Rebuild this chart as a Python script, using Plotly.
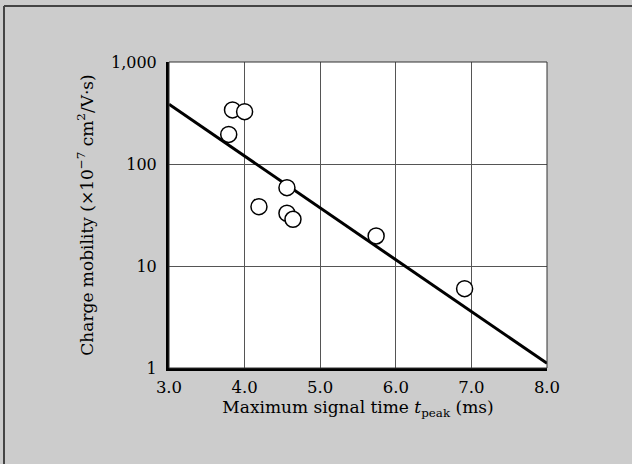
import plotly.graph_objects as go

# Data
signal_time = [3.84, 4.00, 3.79, 4.56, 4.19, 4.56, 4.64, 5.74, 6.91]
mobility = [339, 326, 195, 58.6, 38.2, 32.9, 28.7, 19.7, 6.0]
fit_time = [3.0, 8.0]
fit_mobility = [385, 1.11]

x_ticks = [3, 4, 5, 6, 7, 8]
x_tick_labels = ["3.0", "4.0", "5.0", "6.0", "7.0", "8.0"]
y_ticks = [1, 10, 100, 1000]
y_tick_labels = ["1", "10", "100", "1,000"]

FONT = "DejaVu Serif"

fig = go.Figure()
fig.add_trace(go.Scatter(
    x=fit_time, y=fit_mobility, mode="lines",
    line=dict(color="black", width=3), showlegend=False, hoverinfo="skip",
))
fig.add_trace(go.Scatter(
    x=signal_time, y=mobility, mode="markers",
    marker=dict(symbol="circle", size=16, color="white",
                line=dict(color="black", width=1.5)),
    showlegend=False, cliponaxis=False,
))

# plot border (thin)
fig.add_shape(type="rect", xref="paper", yref="paper", x0=0, x1=1, y0=0, y1=1,
              line=dict(color="#333333", width=1), layer="above")
# outer frame: only top and left edges are visible in the reference
fig.add_shape(type="line", xref="paper", yref="paper",
              x0=-0.4365, x1=1.3, y0=1.183, y1=1.183,
              line=dict(color="#444444", width=2), layer="below")
fig.add_shape(type="line", xref="paper", yref="paper",
              x0=-0.4365, x1=-0.4365, y0=-0.4, y1=1.183,
              line=dict(color="#444444", width=2), layer="below")

fig.update_layout(
    width=632, height=464,
    margin=dict(l=169, r=85, t=62, b=96),
    paper_bgcolor="#cccccc", plot_bgcolor="white",
    font=dict(family=FONT, size=16, color="black"),
    xaxis=dict(
        range=[3, 8], tickvals=x_ticks, ticktext=x_tick_labels,
        showgrid=True, gridcolor="#555555", gridwidth=1,
        showline=True, linecolor="black", linewidth=3, mirror=False,
        ticks="", zeroline=False, ticklabelstandoff=2,
        tickfont=dict(size=16.5),
        title=dict(text="Maximum signal time <i>t</i><sub>peak</sub> (ms)",
                   font=dict(size=17), standoff=6),
    ),
    yaxis=dict(
        type="log", range=[0, 3], tickvals=y_ticks, ticktext=y_tick_labels,
        showgrid=True, gridcolor="#555555", gridwidth=1,
        showline=True, linecolor="black", linewidth=3, mirror=False,
        ticks="", zeroline=False, ticklabelstandoff=6,
        tickfont=dict(size=16),
        title=dict(text="Charge mobility (×10<sup>−7</sup> cm<sup>2</sup>/V·s)",
                   font=dict(size=17), standoff=14),
    ),
)

fig.write_html("out.html")
